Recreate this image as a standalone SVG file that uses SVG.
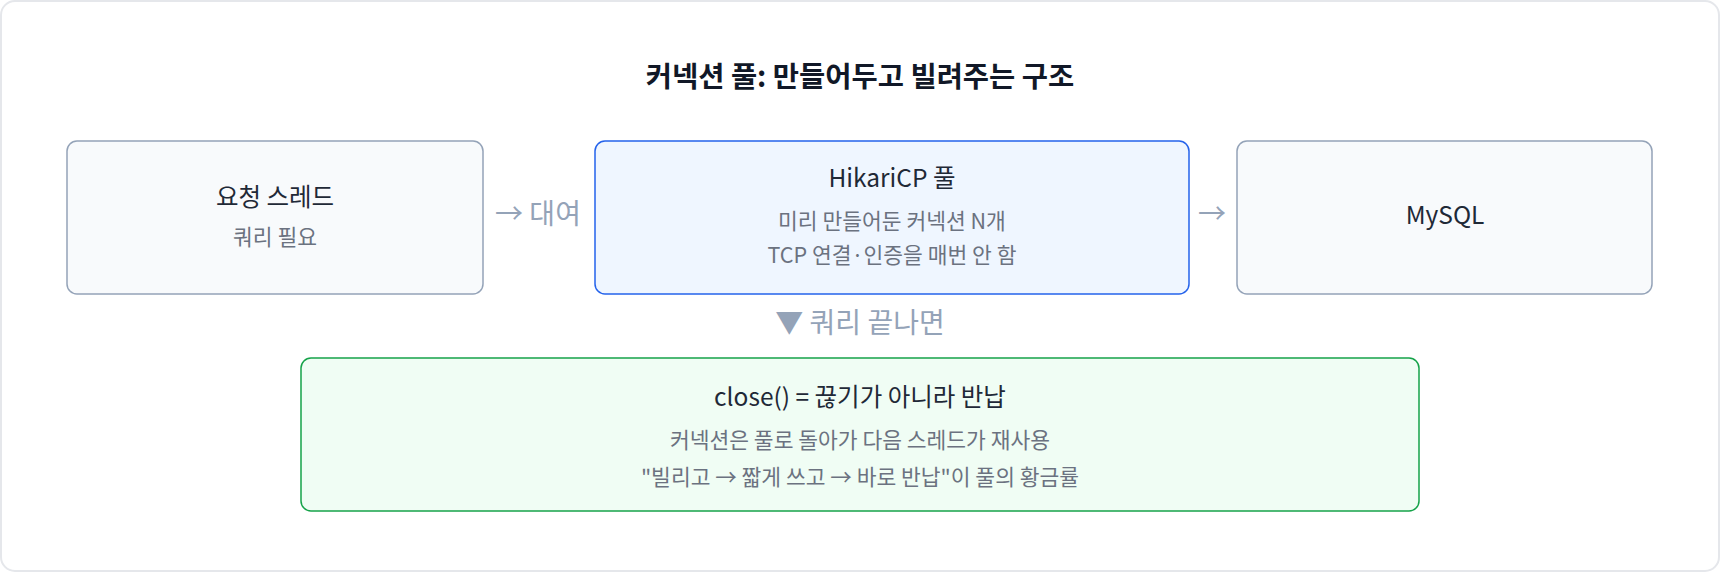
<svg xmlns="http://www.w3.org/2000/svg" width="1720" height="572" viewBox="0 0 1720 572">
<style>
text{font-family:"Noto Sans CJK KR","Noto Sans",sans-serif;text-anchor:middle}
.title{font-size:28.5px;font-weight:700;fill:#111827}
.h{font-size:24.5px;fill:#1f2937}
.s{font-size:21.5px;fill:#6b7280}
.lbl{font-size:28px;fill:#94a3b8}
.gray{fill:#f8fafc;stroke:#94a3b8;stroke-width:1.5}
.blue{fill:#eff6ff;stroke:#2563eb;stroke-width:1.5}
.green{fill:#f0fdf4;stroke:#16a34a;stroke-width:1.5}
</style>
<rect x="1" y="1" width="1718" height="570" rx="14" fill="#ffffff" stroke="#e5e7eb" stroke-width="2"/>
<text class="title" x="860" y="87">커넥션 풀: 만들어두고 빌려주는 구조</text>
<g id="thread">
<rect class="gray" x="67" y="141" width="416" height="153" rx="10"/>
<text class="h" x="275" y="206">요청 스레드</text>
<text class="s" x="275" y="245">쿼리 필요</text>
</g>
<g id="pool">
<rect class="blue" x="595" y="141" width="594" height="153" rx="10"/>
<text class="h" x="892" y="187">HikariCP 풀</text>
<text class="s" x="892" y="229">미리 만들어둔 커넥션 N개</text>
<text class="s" x="892" y="263">TCP 연결·인증을 매번 안 함</text>
</g>
<g id="mysql">
<rect class="gray" x="1237" y="141" width="415" height="153" rx="10"/>
<text class="h" x="1445" y="224">MySQL</text>
</g>
<g id="close">
<rect class="green" x="301" y="358" width="1118" height="153" rx="10"/>
<text class="h" x="860" y="406">close() = 끊기가 아니라 반납</text>
<text class="s" x="860" y="448">커넥션은 풀로 돌아가 다음 스레드가 재사용</text>
<text class="s" x="860" y="485">"빌리고 → 짧게 쓰고 → 바로 반납"이 풀의 황금률</text>
</g>
<g id="connectors">
<text class="lbl" x="538" y="224">→ 대여</text>
<text class="lbl" x="1212" y="224">→</text>
<text class="lbl" x="860" y="333">▼ 쿼리 끝나면</text>
</g>
</svg>
